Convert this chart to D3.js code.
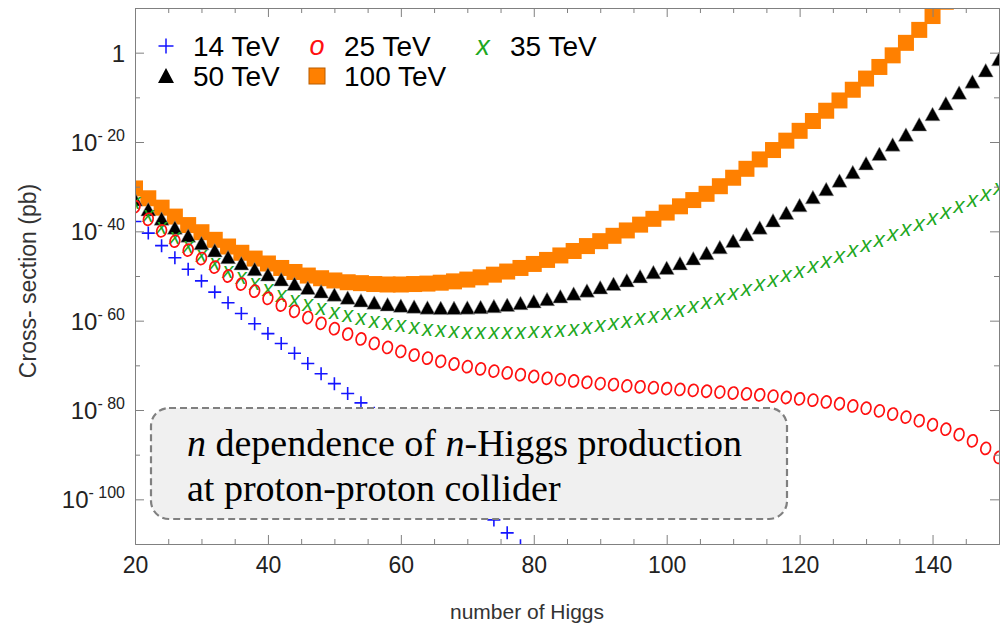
<!DOCTYPE html>
<html>
<head>
<meta charset="utf-8">
<script src="https://cdn.jsdelivr.net/npm/d3@7"></script>
<style>
  body { margin: 0; background: #fff; }
  svg text { font-family: "Liberation Sans", Arial, sans-serif; }
</style>
</head>
<body>
<div id="chart"></div>
<script>
// number of Higgs (scan points)
var nHiggs = [20,22,24,26,28,30,32,34,36,38,40,42,44,46,48,50,52,54,56,58,
  60,62,64,66,68,70,72,74,76,78,80,82,84,86,88,90,92,94,96,98,
  100,102,104,106,108,110,112,114,116,118,120,122,124,126,128,130,132,134,136,138,
  140,142,144,146,148,150];

// log10 of the cross-section in pb (one entry per nHiggs)
var tev14 = [-37.8,-40.4,-43.2,-45.9,-48.5,-51.1,-53.6,-56.0,-58.4,-60.7,
  -62.9,-65.1,-67.3,-69.6,-71.9,-74.1,-76.3,-78.4,-80.7,-83.1,
  -85.6,-88.1,-90.7,-93.3,-96.0,-98.8,-101.7,-104.6,-107.5,-110.4];
var tev25 = [-34.5,-37.3,-39.9,-42.2,-44.2,-46.1,-48.0,-50.0,-51.8,-53.4,
  -55.0,-56.5,-57.9,-59.3,-60.6,-61.8,-63.0,-64.1,-65.1,-66.0,
  -66.9,-67.7,-68.4,-69.1,-69.7,-70.3,-70.8,-71.3,-71.7,-72.1,
  -72.5,-72.9,-73.2,-73.5,-73.8,-74.1,-74.3,-74.6,-74.8,-75.0,
  -75.2,-75.4,-75.6,-75.8,-76.0,-76.2,-76.4,-76.6,-76.9,-77.2,
  -77.5,-77.8,-78.2,-78.6,-79.1,-79.6,-80.2,-80.9,-81.6,-82.4,
  -83.3,-84.3,-85.5,-86.9,-88.6,-90.6];
var tev35 = [-33.7,-36.6,-39.2,-41.5,-43.6,-45.5,-47.3,-49.0,-50.5,-51.9,
  -53.2,-54.4,-55.5,-56.5,-57.4,-58.2,-59.0,-59.7,-60.3,-60.8,
  -61.3,-61.7,-62.0,-62.3,-62.5,-62.7,-62.8,-62.8,-62.8,-62.7,
  -62.6,-62.5,-62.3,-62.0,-61.6,-61.2,-60.8,-60.3,-59.7,-59.1,
  -58.5,-57.8,-57.0,-56.1,-55.1,-54.1,-53.1,-52.1,-51.1,-50.1,
  -49.0,-47.9,-46.8,-45.7,-44.5,-43.3,-42.1,-40.9,-39.7,-38.5,
  -37.2,-35.9,-34.6,-33.3,-31.9,-30.5];
var tev50 = [-33.0,-35.2,-37.3,-39.3,-41.1,-42.8,-44.4,-45.9,-47.3,-48.6,
  -49.8,-50.9,-51.9,-52.8,-53.6,-54.3,-55.0,-55.6,-56.1,-56.5,
  -56.8,-57.0,-57.2,-57.3,-57.3,-57.2,-57.1,-56.9,-56.6,-56.2,
  -55.8,-55.3,-54.7,-54.1,-53.4,-52.7,-51.9,-51.1,-50.2,-49.3,
  -48.3,-47.3,-46.2,-45.0,-43.7,-42.3,-40.8,-39.3,-37.7,-36.0,
  -34.3,-32.5,-30.7,-28.8,-26.9,-24.9,-22.8,-20.7,-18.5,-16.2,
  -13.9,-11.5,-9.1,-6.6,-4.1,-1.6];
var tev100 = [-30.4,-32.6,-34.7,-36.7,-38.6,-40.2,-41.9,-43.4,-44.8,-46.1,
  -47.2,-48.2,-49.1,-49.9,-50.5,-51.0,-51.4,-51.6,-51.8,-51.9,
  -51.9,-51.8,-51.7,-51.5,-51.2,-50.8,-50.3,-49.7,-49.0,-48.2,
  -47.3,-46.4,-45.4,-44.4,-43.3,-42.2,-41.0,-39.8,-38.5,-37.2,
  -35.8,-34.4,-33.0,-31.6,-29.9,-28.0,-26.0,-23.9,-21.8,-19.7,
  -17.5,-15.3,-13.0,-10.7,-8.3,-5.8,-3.2,-0.6,2.2,5.1,
  8.2,11.4];

var seriesNames = ['14 TeV', '25 TeV', '35 TeV', '50 TeV', '100 TeV'];
var xTicks = [20, 40, 60, 80, 100, 120, 140];
var xMinorTicks = [25, 30, 35, 45, 50, 55, 65, 70, 75, 85, 90, 95, 105, 110, 115, 125, 130, 135, 145];
var yTickExps = [0, -20, -40, -60, -80, -100];
var yMinorExps = [-10, -30, -50, -70, -90];

var chart_width = 1000;
var chart_height = 628;
var plot = {left: 135, right: 999, top: 8, bottom: 544};

var svg = d3.select('#chart')
  .append('svg')
  .attr('width', chart_width)
  .attr('height', chart_height);

var x_scale = d3.scaleLinear().domain([20, 150]).range([plot.left, plot.right]);
var y_scale = d3.scaleLog().domain([1e-110, 1e10]).range([plot.bottom, plot.top]);

// series -> points
function points(arr) {
  return arr.map((e, i) => ({n: nHiggs[i], v: Math.pow(10, e)}));
}

var series = [
  {name: seriesNames[0], data: points(tev14), mark: 'plus'},
  {name: seriesNames[1], data: points(tev25), mark: 'o'},
  {name: seriesNames[2], data: points(tev35), mark: 'x'},
  {name: seriesNames[3], data: points(tev50), mark: 'tri'},
  {name: seriesNames[4], data: points(tev100), mark: 'square'}
];

// draw one marker into a group
function drawMark(g, mark, cx, cy) {
  if (mark == 'plus') {
    g.append('path')
      .attr('d', `M${cx - 6.5},${cy}H${cx + 6.5}M${cx},${cy - 6.5}V${cy + 6.5}`)
      .attr('stroke', '#1515ff').attr('stroke-width', 1.6).attr('fill', 'none');
  } else if (mark == 'o') {
    g.append('ellipse')
      .attr('cx', cx).attr('cy', cy).attr('rx', 4.8).attr('ry', 6.1)
      .attr('transform', `rotate(15,${cx},${cy})`)
      .attr('stroke', '#ff1010').attr('stroke-width', 1.7).attr('fill', 'none');
  } else if (mark == 'x') {
    g.append('text')
      .attr('x', cx).attr('y', cy + 6)
      .attr('text-anchor', 'middle')
      .attr('font-size', 22).attr('font-style', 'italic')
      .attr('fill', '#1fa81f')
      .text('x');
  } else if (mark == 'tri') {
    g.append('path')
      .attr('d', `M${cx - 7.5},${cy + 6}L${cx + 7.5},${cy + 6}L${cx},${cy - 7.5}Z`)
      .attr('fill', '#000').attr('stroke', '#999').attr('stroke-width', 0.5);
  } else if (mark == 'square') {
    g.append('rect')
      .attr('x', cx - 8).attr('y', cy - 8).attr('width', 16).attr('height', 16)
      .attr('fill', '#ff8000');
  }
}

// clip markers to the frame
svg.append('clipPath').attr('id', 'plot-clip')
  .append('rect')
  .attr('x', plot.left).attr('y', plot.top)
  .attr('width', plot.right - plot.left).attr('height', plot.bottom - plot.top);

var marks = svg.append('g').attr('clip-path', 'url(#plot-clip)');

// orange first, blue last
series.slice().reverse().forEach(function(s) {
  var g = marks.append('g');
  s.data.forEach(function(d) {
    drawMark(g, s.mark, x_scale(d.n), y_scale(d.v));
  });
});

// axes
function styleAxis(g) {
  g.select('.domain').attr('stroke', '#808080');
  g.selectAll('.tick line').attr('stroke', '#808080');
  g.selectAll('.tick text').attr('fill', '#222').attr('font-size', 23)
    .attr('font-family', '"Liberation Sans", Arial, sans-serif');
}

svg.append('g')
  .attr('transform', `translate(0,${plot.bottom})`)
  .call(d3.axisBottom(x_scale).tickValues(xTicks).tickSize(-9).tickSizeOuter(0).tickPadding(13).tickFormat(d3.format('d')))
  .call(styleAxis);
svg.append('g')
  .attr('transform', `translate(0,${plot.bottom})`)
  .call(d3.axisBottom(x_scale).tickValues(xMinorTicks).tickSize(-5).tickSizeOuter(0).tickFormat(''))
  .call(styleAxis);
svg.append('g')
  .attr('transform', `translate(0,${plot.top})`)
  .call(d3.axisTop(x_scale).tickValues(xTicks).tickSize(-9).tickSizeOuter(0).tickFormat(''))
  .call(styleAxis);
svg.append('g')
  .attr('transform', `translate(0,${plot.top})`)
  .call(d3.axisTop(x_scale).tickValues(xMinorTicks).tickSize(-5).tickSizeOuter(0).tickFormat(''))
  .call(styleAxis);

var yMajor = yTickExps.map(e => Math.pow(10, e));
var yMinor = yMinorExps.map(e => Math.pow(10, e));

svg.append('g')
  .attr('transform', `translate(${plot.left},0)`)
  .call(d3.axisLeft(y_scale).tickValues(yMajor).tickSize(-9).tickSizeOuter(0).tickFormat(''))
  .call(styleAxis);
svg.append('g')
  .attr('transform', `translate(${plot.left},0)`)
  .call(d3.axisLeft(y_scale).tickValues(yMinor).tickSize(-5).tickSizeOuter(0).tickFormat(''))
  .call(styleAxis);
svg.append('g')
  .attr('transform', `translate(${plot.right},0)`)
  .call(d3.axisRight(y_scale).tickValues(yMajor).tickSize(-9).tickSizeOuter(0).tickFormat(''))
  .call(styleAxis);
svg.append('g')
  .attr('transform', `translate(${plot.right},0)`)
  .call(d3.axisRight(y_scale).tickValues(yMinor).tickSize(-5).tickSizeOuter(0).tickFormat(''))
  .call(styleAxis);

// y tick labels as 10^-k with a spaced minus, like the original
yTickExps.forEach(function(e) {
  var t = svg.append('text')
    .attr('x', plot.left - 10)
    .attr('y', y_scale(Math.pow(10, e)) + 9)
    .attr('text-anchor', 'end')
    .attr('font-size', 24)
    .attr('fill', '#222');
  if (e == 0) {
    t.text('1');
  } else {
    t.append('tspan').text('10');
    t.append('tspan').attr('dy', -10).attr('font-size', 16).text('- ' + (-e));
  }
});

// axis titles
svg.append('text')
  .attr('x', 527).attr('y', 619)
  .attr('text-anchor', 'middle')
  .attr('font-size', 21)
  .attr('fill', '#333')
  .text('number of Higgs');

svg.append('text')
  .attr('transform', 'translate(36,281) rotate(-90)')
  .attr('text-anchor', 'middle')
  .attr('font-size', 23)
  .attr('fill', '#333')
  .text('Cross- section (pb)');

// legend
var legendCols = [166, 317, 483];
var legendRows = [46, 76];
series.forEach(function(s, i) {
  var cx = legendCols[i % 3];
  var cy = legendRows[Math.floor(i / 3)];
  var g = svg.append('g');
  if (s.mark == 'o') {
    g.append('text').attr('x', cx).attr('y', cy + 9).attr('text-anchor', 'middle')
      .attr('font-size', 27).attr('font-style', 'italic').attr('fill', '#ff1010').text('o');
  } else if (s.mark == 'x') {
    g.append('text').attr('x', cx).attr('y', cy + 9).attr('text-anchor', 'middle')
      .attr('font-size', 27).attr('font-style', 'italic').attr('fill', '#1fa81f').text('x');
  } else if (s.mark == 'plus') {
    g.append('path')
      .attr('d', `M${cx - 7.5},${cy}H${cx + 7.5}M${cx},${cy - 7.5}V${cy + 7.5}`)
      .attr('stroke', '#1515ff').attr('stroke-width', 1.5);
  } else if (s.mark == 'tri') {
    g.append('path')
      .attr('d', `M${cx - 8},${cy + 7}L${cx + 8},${cy + 7}L${cx},${cy - 8}Z`)
      .attr('fill', '#000');
  } else {
    g.append('rect')
      .attr('x', cx - 8).attr('y', cy - 8).attr('width', 16).attr('height', 16)
      .attr('fill', '#ff8000').attr('stroke', '#b85c00').attr('stroke-width', 1);
  }
  g.append('text')
    .attr('x', cx + 27).attr('y', cy + 10)
    .attr('font-size', 28)
    .attr('fill', '#000')
    .text(s.name);
});

// annotation box
svg.append('rect')
  .attr('x', 151).attr('y', 408).attr('width', 636).attr('height', 111)
  .attr('rx', 18).attr('ry', 18)
  .attr('fill', '#f0f0f0')
  .attr('stroke', '#808080').attr('stroke-width', 2.2)
  .attr('stroke-dasharray', '7,4');

var note = svg.append('g')
  .attr('font-size', 38)
  .attr('fill', '#000');
var line1 = note.append('text').attr('x', 187).attr('y', 456)
  .style('font-family', '"Liberation Serif", "Times New Roman", serif');
line1.append('tspan').attr('font-style', 'italic').text('n');
line1.append('tspan').text(' dependence of ');
line1.append('tspan').attr('font-style', 'italic').text('n');
line1.append('tspan').text('-Higgs production');
note.append('text').attr('x', 187).attr('y', 501)
  .style('font-family', '"Liberation Serif", "Times New Roman", serif')
  .text('at proton-proton collider');
</script>
</body>
</html>
